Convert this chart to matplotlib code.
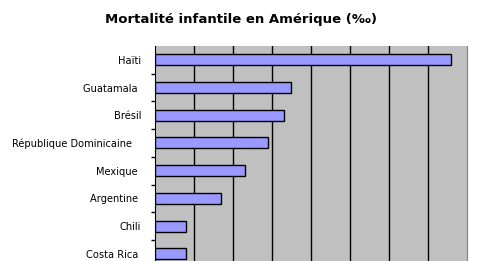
import matplotlib
matplotlib.use("Agg")
import matplotlib.pyplot as plt
import numpy as np

# données
pays = ["Haïti", "Guatamala ", "Brésil", "République Dominicaine   ",
        "Mexique ", "Argentine ", "Chili", "Costa Rica "]
mortalite = [76, 35, 33, 29, 23, 17, 8, 8]

W, H = 486, 261
fig = plt.figure(figsize=(W / 100, H / 100), dpi=100)
fig.patch.set_facecolor("white")

# axe : haut à y=46 px, 27.7 px par catégorie
top, step = 46, 27.7
left, right = 155, 466.7
ax_h = step * len(pays)
ax = fig.add_axes([left / W, 1 - (top + ax_h) / H, (right - left) / W, ax_h / H])
ax.set_facecolor("#c0c0c0")

y = np.arange(len(pays))
ax.barh(y, mortalite, height=0.4, color="#9999ff", edgecolor="black", linewidth=1, zorder=3)

ax.set_xlim(0, 80)
ax.set_ylim(len(pays) - 0.5, -0.5)
ax.set_xticks(np.arange(10, 80, 10))
ax.xaxis.grid(True, color="black", linewidth=1, zorder=1)
ax.set_axisbelow(True)
ax.tick_params(axis="x", length=0, labelbottom=False)

ax.set_yticks(y)
ax.set_yticklabels(pays, fontsize=7.1, family="DejaVu Sans")
ax.tick_params(axis="y", which="major", length=0, pad=10)
ax.set_yticks(np.arange(0.5, len(pays) - 0.5, 1), minor=True)
ax.tick_params(axis="y", which="minor", length=3, width=1, color="black", direction="out")

ax.spines["top"].set_visible(False)
ax.spines["bottom"].set_visible(False)
ax.spines["left"].set_color("black")
ax.spines["right"].set_color("#808080")

fig.text(241 / W, 1 - 20 / H, "Mortalité infantile en Amérique (‰)",
         ha="center", va="center", fontsize=9.5, fontweight="bold")

fig.savefig("out.png", dpi=100)
